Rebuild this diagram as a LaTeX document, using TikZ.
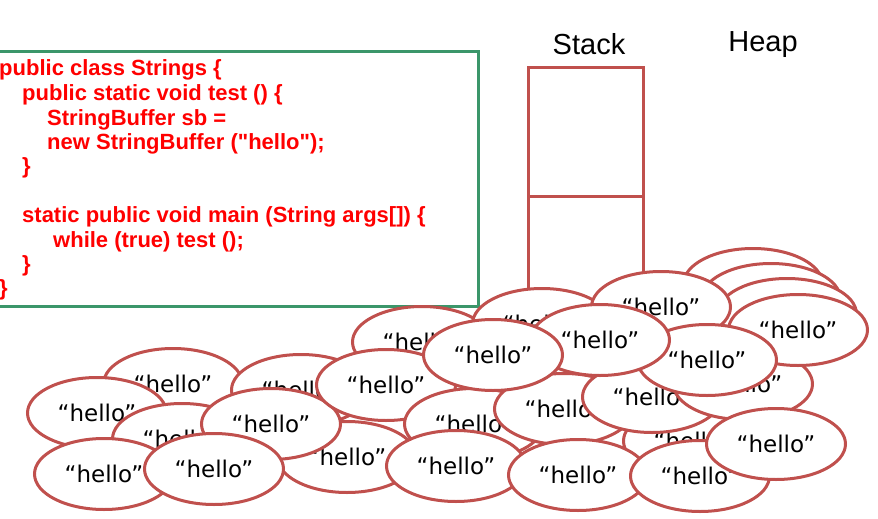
\documentclass[tikz,border=0pt]{standalone}
\usepackage{fontspec}
\setmainfont{Liberation Sans}
\newfontfamily\codefont[Ligatures=ResetAll]{Liberation Sans}
\newfontfamily\blobfont{DejaVu Sans}
\usetikzlibrary{shapes.geometric}

\definecolor{objred}{RGB}{192,80,77}
\definecolor{boxgreen}{RGB}{59,150,106}
\definecolor{codered}{RGB}{255,0,0}

\begin{document}
\begin{tikzpicture}[
  x=1pt, y=-1pt,
  obj/.style={ellipse, draw=objred, line width=3pt, fill=white, minimum width=139pt, minimum height=71pt, inner sep=0pt, font=\blobfont\fontsize{23}{26}\selectfont},
  codeline/.style={anchor=base west, inner sep=0pt, text=codered, font=\codefont\bfseries\fontsize{22}{24}\selectfont},
  cell/.style={draw=objred, line width=3pt, minimum width=115pt, inner sep=0pt, anchor=north},
  title/.style={anchor=base, inner sep=0pt, font=\fontsize{29}{32}\selectfont}
]
\useasboundingbox (0,0) rectangle (878,519);

% code listing
\node[draw=boxgreen, line width=3pt, minimum width=495pt, minimum height=255pt, inner sep=0pt, anchor=north east] (box) at (480,50) {};
\node[codeline] (c1) at (-1,76) {public class Strings \{};
\node[codeline] (c2) at (22,100.5) {public static void test () \{};
\node[codeline] (c3) at (47,125) {StringBuffer sb =};
\node[codeline] (c4) at (47,149) {new StringBuffer ("hello");};
\node[codeline] (c5) at (22,173.5) {\}};
\node[codeline] (c6) at (22,222.5) {static public void main (String args[]) \{};
\node[codeline] (c7) at (53,247) {while (true) test ();};
\node[codeline] (c8) at (22,271) {\}};
\node[codeline] (c9) at (-1,295.5) {\}};

% stack
\node[title] (stack) at (589,55) {Stack};
\node[title] (heap) at (763,52) {Heap};
\node[cell, minimum height=129pt] (frame1) at (585.5,66) {};
\node[cell, minimum height=135pt] (frame2) at (585.5,195) {};

% heap objects, back to front
\node[obj] (a) at (173,384) {“hello”};
\node[obj] (g) at (301,390) {“hello”};
\node[obj] (b) at (97,413) {“hello”};
\node[obj] (c) at (182,439) {“hello”};
\node[obj] (d) at (104,474) {“hello”};
\node[obj] (h) at (347,457) {“hello”};
\node[obj] (f) at (271,424) {“hello”};
\node[obj] (e) at (214,469) {“hello”};
\node[obj] (w) at (422,342) {“hello”};
\node[obj] (u) at (542,324) {“hello”};
\node[obj] (i) at (386,385) {“hello”};
\node[obj] (x) at (474,424) {“hello”};
\node[obj] (y) at (564,409) {“hello”};
\node[obj] (z) at (693,441) {“hello”};
\node[obj] (q) at (652,397) {“hello”};
\node[obj] (r) at (743,384) {“hello”};
\node[obj] (h1) at (753,284) {“hello”};
\node[obj] (h2) at (771,299) {“hello”};
\node[obj] (h3) at (787,314) {“hello”};
\node[obj] (h4) at (798,330) {“hello”};
\node[obj] (t) at (661,307) {“hello”};
\node[obj] (p) at (707,360) {“hello”};
\node[obj] (s) at (600,340) {“hello”};
\node[obj] (v) at (493,355) {“hello”};
\node[obj] (n) at (456,466) {“hello”};
\node[obj] (m) at (578,475) {“hello”};
\node[obj] (l) at (700,476) {“hello”};
\node[obj] (k) at (776,444) {“hello”};
\end{tikzpicture}
\end{document}
